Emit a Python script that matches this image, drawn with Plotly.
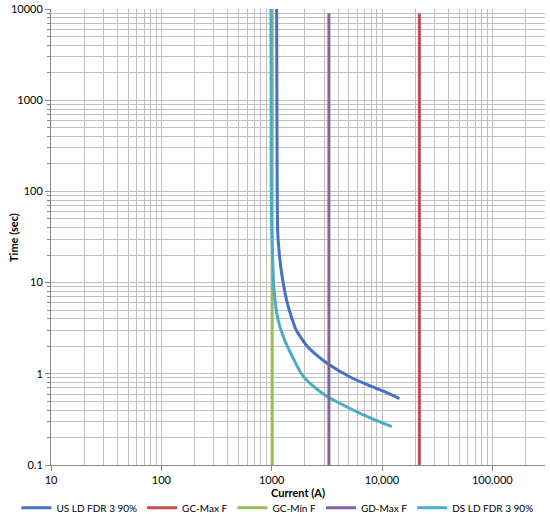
import plotly.graph_objects as go

# ---- data ----
us_current = [1109, 1122, 1135, 1164, 1208, 1274, 1365, 1507, 1667, 2051, 2541, 3251, 5082, 7709, 10914, 14388]
us_time = [10000, 100, 35, 22.8, 14.9, 9.82, 6.44, 4.23, 3.02, 2.07, 1.61, 1.28, 0.929, 0.741, 0.625, 0.535]

ds_current = [985, 992, 1000, 1015, 1040, 1072, 1143, 1300, 1540, 1841, 2060, 2530, 3100, 5080, 7710, 12270]
ds_time = [10000, 100, 40, 22.8, 9.82, 6.44, 3.89, 2.4, 1.54, 1.02, 0.86, 0.69, 0.575, 0.419, 0.33, 0.263]

gc_min_current = [1010, 1010]
gc_min_time = [0.1, 10000]

gd_max_current = [3300, 3300]
gd_max_time = [0.1, 9000]

gc_max_current = [21800, 21800]
gc_max_time = [0.1, 9000]

x_major = [10, 100, 1000, 10000, 100000]
x_major_text = ["10", "100", "1000", "10,000", "100,000"]
y_major = [0.1, 1, 10, 100, 1000, 10000]
y_major_text = ["0.1", "1", "10", "100", "1000", "10000"]

# ---- figure ----
FONT = "Lato"
traces = [
    ("GC-Min F", gc_min_current, gc_min_time, "#9BBB59", 3),
    ("US LD FDR 3 90%", us_current, us_time, "#4472C4", 1),
    ("DS LD FDR 3 90%", ds_current, ds_time, "#4BACC6", 5),
    ("GD-Max F", gd_max_current, gd_max_time, "#8064A2", 4),
    ("GC-Max F", gc_max_current, gc_max_time, "#C0504D", 2),
]

fig = go.Figure()
for name, xs, ys, color, rank in traces:
    fig.add_trace(go.Scatter(
        x=xs, y=ys, mode="lines", name=name,
        line=dict(color=color, width=3, shape="spline", smoothing=0.5),
        legendrank=rank,
    ))

minor_x = []
for d in [10, 100, 1000, 10000, 100000]:
    for m in range(2, 10):
        v = d * m
        if v <= 300000:
            minor_x.append(v)
minor_y = []
for d in [0.1, 1, 10, 100, 1000]:
    for m in range(2, 10):
        minor_y.append(d * m)

grid_col = "#C0C0C0"
axis_col = "#868686"

fig.update_layout(
    width=550, height=523,
    margin=dict(l=51, r=5, t=9, b=58, autoexpand=False),
    paper_bgcolor="white", plot_bgcolor="white",
    font=dict(family=FONT, size=11, color="#000000"),
    showlegend=True,
    legend=dict(
        orientation="h", x=-0.07, xanchor="left", y=-0.094, yanchor="middle",
        font=dict(family=FONT, size=10), itemwidth=30, tracegroupgap=0,
        traceorder="normal",
    ),
    xaxis=dict(
        type="log", range=[1, 5.4771],
        tickmode="array", tickvals=x_major, ticktext=x_major_text,
        ticks="outside", ticklen=5, tickcolor=axis_col,
        showgrid=True, gridcolor=grid_col, gridwidth=1,
        showline=True, linecolor=axis_col, linewidth=1,
        zeroline=False,
        minor=dict(tickmode="array", tickvals=minor_x, showgrid=True,
                   gridcolor=grid_col, gridwidth=1, ticks="", ),
        title=dict(text="<b>Current (A)</b>", font=dict(family=FONT, size=11), standoff=4),
        tickfont=dict(family=FONT, size=11),
    ),
    yaxis=dict(
        type="log", range=[-1, 4],
        tickmode="array", tickvals=y_major, ticktext=y_major_text,
        ticks="outside", ticklen=5, tickcolor=axis_col,
        showgrid=True, gridcolor=grid_col, gridwidth=1,
        showline=True, linecolor=axis_col, linewidth=1,
        zeroline=False,
        minor=dict(tickmode="array", tickvals=minor_y, showgrid=True,
                   gridcolor=grid_col, gridwidth=1, ticks="outside", ticklen=3,
                   tickcolor=axis_col),
        tickfont=dict(family=FONT, size=11),
    ),
    annotations=[dict(
        text="<b>Time (sec)</b>", textangle=-90, showarrow=False,
        xref="paper", yref="paper", x=-0.077, y=0.5,
        xanchor="center", yanchor="middle",
        font=dict(family=FONT, size=11, color="#000000"),
    )],
)

fig.write_html("out.html", config={"displayModeBar": False},
               post_script="document.body.style.margin='0px';")
